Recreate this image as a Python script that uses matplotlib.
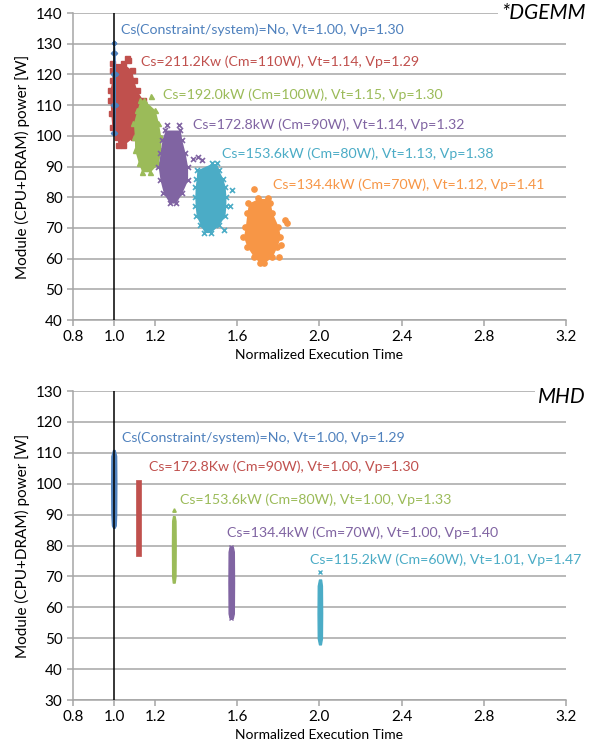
import numpy as np
import matplotlib.pyplot as plt
from matplotlib.ticker import FormatStrFormatter

plt.rcParams['font.family'] = ['Lato', 'DejaVu Sans']

# Excel-style series colours
c_blue, c_red, c_green = '#4f81bd', '#c0504d', '#9bbb59'
c_purple, c_teal, c_orange = '#8064a2', '#4bacc6', '#f79646'

# ---- DGEMM: each cloud as power levels [W] with its left/right edge (normalized time)
dg_red_y = [123.6, 121.4, 118.2, 114.9, 111.7, 107.4, 102.9, 99.6, 97.0]
dg_red_xl = [0.989, 0.989, 0.989, 0.980, 0.980, 0.984, 0.989, 1.013, 1.020]
dg_red_xr = [1.045, 1.086, 1.096, 1.110, 1.140, 1.117, 1.110, 1.094, 1.045]
dg_red_out_x = [1.063, 1.068]
dg_red_out_y = [125.3, 124.6]

dg_blue_y = [130.2, 127.0, 120.0, 110.0, 101.0]
dg_blue_xl = [0.998, 0.994, 0.993, 0.993, 0.996]
dg_blue_xr = [1.002, 1.006, 1.007, 1.007, 1.004]

dg_green_y = [111.7, 108.4, 104.2, 99.6, 95.4, 91.1, 88.3]
dg_green_xl = [1.127, 1.111, 1.094, 1.099, 1.100, 1.119, 1.135]
dg_green_xr = [1.146, 1.200, 1.216, 1.228, 1.228, 1.216, 1.176]
dg_green_out_x = [1.180]
dg_green_out_y = [113.1]

dg_purple_y = [101.9, 98.6, 94.4, 89.9, 85.6, 81.4, 78.1]
dg_purple_xl = [1.249, 1.233, 1.224, 1.215, 1.224, 1.240, 1.270]
dg_purple_xr = [1.322, 1.330, 1.346, 1.358, 1.358, 1.330, 1.300]
dg_purple_out_x = [1.260, 1.314, 1.385, 1.410, 1.430]
dg_purple_out_y = [103.5, 103.5, 92.5, 93.0, 92.0]

dg_teal_y = [91.0, 88.9, 86.0, 83.4, 80.0, 77.0, 74.0, 71.0, 68.5]
dg_teal_xl = [1.475, 1.403, 1.400, 1.395, 1.393, 1.395, 1.400, 1.420, 1.440]
dg_teal_xr = [1.500, 1.509, 1.530, 1.541, 1.545, 1.544, 1.540, 1.510, 1.470]
dg_teal_out_x = [1.574, 1.566, 1.533]
dg_teal_out_y = [82.3, 77.0, 69.3]

dg_orange_y = [79.6, 78.1, 74.9, 70.4, 67.1, 63.9, 60.6, 58.6]
dg_orange_xl = [1.703, 1.654, 1.647, 1.639, 1.630, 1.647, 1.680, 1.710]
dg_orange_xr = [1.751, 1.761, 1.770, 1.800, 1.810, 1.793, 1.770, 1.730]
dg_orange_out_x = [1.680, 1.834, 1.844, 1.815, 1.805]
dg_orange_out_y = [82.7, 72.5, 71.5, 64.4, 60.6]

# ---- MHD
mhd_blue_y = [110.9, 109.0, 100.0, 90.0, 86.5, 85.7]
mhd_blue_xl = [0.995, 0.987, 0.986, 0.987, 0.990, 0.996]
mhd_blue_xr = [1.003, 1.010, 1.011, 1.010, 1.008, 1.002]

mhd_red_y = [101.2, 76.7]
mhd_red_xl = [1.107, 1.107]
mhd_red_xr = [1.130, 1.130]

mhd_green_y = [89.5, 88.0, 80.0, 70.0, 68.0]
mhd_green_xl = [1.287, 1.283, 1.282, 1.283, 1.286]
mhd_green_xr = [1.295, 1.299, 1.300, 1.299, 1.295]
mhd_green_out_x = [1.290]
mhd_green_out_y = [91.5]

mhd_purple_y = [79.6, 78.0, 68.0, 58.0, 56.5]
mhd_purple_xl = [1.563, 1.558, 1.557, 1.558, 1.563]
mhd_purple_xr = [1.578, 1.583, 1.584, 1.583, 1.578]
mhd_purple_out_x = [1.571, 1.571]
mhd_purple_out_y = [79.6, 56.5]

mhd_teal_y = [69.0, 67.0, 58.0, 50.0, 48.0]
mhd_teal_xl = [1.998, 1.992, 1.991, 1.992, 1.998]
mhd_teal_xr = [2.008, 2.012, 2.013, 2.012, 2.007]
mhd_teal_out_x = [2.004]
mhd_teal_out_y = [71.4]

# annotation texts and anchor positions (data coords)
dg_labels = ['Cs(Constraint/system)=No, Vt=1.00, Vp=1.30',
             'Cs=211.2Kw (Cm=110W), Vt=1.14, Vp=1.29',
             'Cs=192.0kW (Cm=100W), Vt=1.15, Vp=1.30',
             'Cs=172.8kW (Cm=90W), Vt=1.14, Vp=1.32',
             'Cs=153.6kW (Cm=80W), Vt=1.13, Vp=1.38',
             'Cs=134.4kW (Cm=70W), Vt=1.12, Vp=1.41']
dg_label_x = [1.034, 1.132, 1.239, 1.385, 1.527, 1.776]
dg_label_y = [134.5, 124.0, 113.3, 103.5, 94.1, 84.0]
dg_label_c = [c_blue, c_red, c_green, c_purple, c_teal, c_orange]

mhd_labels = ['Cs(Constraint/system)=No, Vt=1.00, Vp=1.29',
              'Cs=172.8Kw (Cm=90W), Vt=1.00, Vp=1.30',
              'Cs=153.6kW (Cm=80W), Vt=1.00, Vp=1.33',
              'Cs=134.4kW (Cm=70W), Vt=1.00, Vp=1.40',
              'Cs=115.2kW (Cm=60W), Vt=1.01, Vp=1.47']
mhd_label_x = [1.039, 1.171, 1.322, 1.552, 1.955]
mhd_label_y = [114.8, 105.5, 94.8, 84.1, 75.4]
mhd_label_c = [c_blue, c_red, c_green, c_purple, c_teal]

x_ticks = [0.8, 1.0, 1.2, 1.6, 2.0, 2.4, 2.8, 3.2]


def cloud(ax, y, xl, xr, color, marker, ms, mew=1.0, ox=None, oy=None, edge=0):
    ax.fill_betweenx(y, xl, xr, facecolor=color, edgecolor=color, lw=edge, zorder=3)
    if ms > 0:
        for xs in (xl, xr):
            ax.plot(xs, y, ls='none', marker=marker, ms=ms, color=color,
                    mew=mew, zorder=3)
    if ox is not None:
        ax.plot(ox, oy, ls='none', marker=marker, ms=max(ms, 2.5), color=color,
                mew=mew, zorder=3)


def style(ax, ymin, ymax):
    ax.set_xlim(0.8, 3.2)
    ax.set_ylim(ymin, ymax)
    ax.set_xticks(x_ticks)
    ax.set_yticks(np.arange(ymin, ymax + 1, 10))
    ax.xaxis.set_major_formatter(FormatStrFormatter('%.1f'))
    ax.yaxis.set_major_formatter(FormatStrFormatter('%d'))
    ax.grid(axis='y', color='#a6a6a6', lw=1.1, zorder=0)
    for s in ('top', 'right'):
        ax.spines[s].set_visible(False)
    for s in ('left', 'bottom'):
        ax.spines[s].set_color('#a6a6a6')
        ax.spines[s].set_linewidth(1.1)
    ax.tick_params(colors='#a6a6a6', labelcolor='black', labelsize=11,
                   length=4, width=1.1)
    ax.axvline(1.0, color='black', lw=1.1, zorder=4)
    ax.set_ylabel('Module (CPU+DRAM) power [W]', fontsize=11, labelpad=4)
    ax.set_xlabel('Normalized Execution Time', fontsize=10, labelpad=3)


fig = plt.figure(figsize=(5.91, 7.42), dpi=100, facecolor='white')

# top panel: DGEMM
ax1 = fig.add_axes([0.1235, 0.5687, 0.834, 0.4137])
style(ax1, 40, 140)
cloud(ax1, dg_red_y, dg_red_xl, dg_red_xr, c_red, 's', 3.6, ox=dg_red_out_x, oy=dg_red_out_y)
cloud(ax1, dg_blue_y, dg_blue_xl, dg_blue_xr, c_blue, 'D', 2.2)
cloud(ax1, dg_green_y, dg_green_xl, dg_green_xr, c_green, '^', 3.6, ox=dg_green_out_x, oy=dg_green_out_y)
cloud(ax1, dg_purple_y, dg_purple_xl, dg_purple_xr, c_purple, 'x', 3.6, mew=1.2, ox=dg_purple_out_x, oy=dg_purple_out_y)
cloud(ax1, dg_teal_y, dg_teal_xl, dg_teal_xr, c_teal, 'x', 3.6, mew=1.2, ox=dg_teal_out_x, oy=dg_teal_out_y)
cloud(ax1, dg_orange_y, dg_orange_xl, dg_orange_xr, c_orange, 'o', 3.8, ox=dg_orange_out_x, oy=dg_orange_out_y)
for t, x, y, c in zip(dg_labels, dg_label_x, dg_label_y, dg_label_c):
    ax1.text(x, y, t, color=c, fontsize=10.2, va='center', ha='left', zorder=5)
ax1.text(1.04, 1.0, '*DGEMM', transform=ax1.transAxes, fontsize=15,
         style='italic', ha='right', va='center', clip_on=False, zorder=6,
         bbox=dict(facecolor='white', edgecolor='none', pad=2))

# bottom panel: MHD
ax2 = fig.add_axes([0.1235, 0.0566, 0.834, 0.4164])
style(ax2, 30, 130)
cloud(ax2, mhd_blue_y, mhd_blue_xl, mhd_blue_xr, c_blue, 'D', 0, edge=1.0)
cloud(ax2, mhd_red_y, mhd_red_xl, mhd_red_xr, c_red, 's', 0, edge=0.5)
cloud(ax2, mhd_green_y, mhd_green_xl, mhd_green_xr, c_green, '^', 0, ox=mhd_green_out_x, oy=mhd_green_out_y, edge=1.0)
cloud(ax2, mhd_purple_y, mhd_purple_xl, mhd_purple_xr, c_purple, 'x', 0, ox=mhd_purple_out_x, oy=mhd_purple_out_y, edge=1.0)
cloud(ax2, mhd_teal_y, mhd_teal_xl, mhd_teal_xr, c_teal, 'x', 0, ox=mhd_teal_out_x, oy=mhd_teal_out_y, edge=1.0)
for t, x, y, c in zip(mhd_labels, mhd_label_x, mhd_label_y, mhd_label_c):
    ax2.text(x, y, t, color=c, fontsize=10.2, va='center', ha='left', zorder=5)
ax2.text(1.04, 0.98, 'MHD', transform=ax2.transAxes, fontsize=15,
         style='italic', ha='right', va='center', clip_on=False, zorder=6,
         bbox=dict(facecolor='white', edgecolor='none', pad=2))

fig.savefig('out.png', dpi=100, facecolor='white')
